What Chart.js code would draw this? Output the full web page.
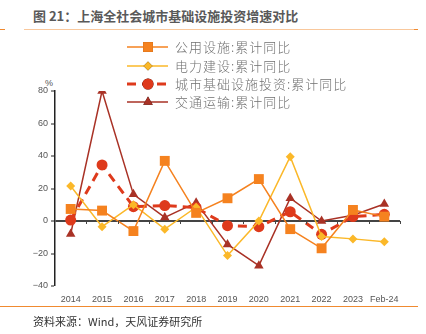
<!DOCTYPE html>
<html>
<head>
<meta charset="utf-8">
<script src="https://cdn.jsdelivr.net/npm/chart.js@4/dist/chart.umd.min.js"></script>
<style>
  html, body { margin: 0; padding: 0; background: #fff; }
  #wrap { position: relative; width: 426px; height: 334px; overflow: hidden; }
  #chart { position: absolute; left: 0; top: 0; }
  .title { position: absolute; left: 33px; top: 6px; font: bold 13px "Noto Sans CJK SC", sans-serif; color: #595959; white-space: nowrap; }
  .source { position: absolute; left: 33px; top: 313px; font: 11px "Noto Sans CJK SC", sans-serif; color: #333; white-space: nowrap; }
  .unit { position: absolute; left: 45px; top: 78px; font: 9px "Liberation Sans", Arial, sans-serif; color: #555; }
  .hline { position: absolute; height: 1px; }
</style>
</head>
<body>
<div id="wrap">
  <div class="title">图 21：上海全社会城市基础设施投资增速对比</div>
  <div class="hline" style="left:0;top:29px;width:5px;background:#f08a30"></div>
  <div class="hline" style="left:24px;top:29px;width:394px;background:#f9c89c"></div>
  <div class="hline" style="left:414px;top:29px;width:4px;background:#f08a30"></div>
  <div class="hline" style="left:0;top:306px;width:418px;background:#f08a30"></div>
  <div class="unit">%</div>
  <canvas id="chart" width="426" height="334"></canvas>
  <div class="source">资料来源：Wind，天风证券研究所</div>
</div>
<script>
const years = ["2014", "2015", "2016", "2017", "2018", "2019", "2020", "2021", "2022", "2023", "Feb-24"];
// 累计同比, %
const utilities = [7.4, 6.4, -6.2, 37, 5, 14, 25.8, -5, -16.8, 6.8, 2.7];
const power = [21.5, -3.5, 10, -5, 8.5, -21.3, 0, 39.6, -9.5, -11, -12.7];
const cityInfra = [0.6, 34.5, 8.8, 9.5, 8.2, -2.9, -3.5, 5.7, -8.2, 2.7, 4.1];
const transport = [-8, 80, 16.4, 2.2, 11.3, -14.4, -27.5, 14, 0, 3.5, 10.5];
const yTicks = [-40, -20, 0, 20, 40, 60, 80];

const ORANGE = "#f5821f";
const YELLOW = "#fbb829";
const RED = "#de3a1c";
const DARKRED = "#a93226";

function series(label, data, color, style, radius, extra) {
  return Object.assign({
    label: label,
    data: data,
    borderColor: color,
    backgroundColor: color,
    pointBackgroundColor: color,
    pointBorderColor: color,
    pointStyle: style,
    pointRadius: radius,
    pointBorderWidth: 0,
    borderWidth: 1.5,
    tension: 0,
  }, extra || {});
}

// legend with line + marker drawn inside the plot like the original
const legendPlugin = {
  id: "lineLegend",
  afterDraw(chart) {
    const ctx = chart.ctx;
    const rows = [47, 66, 84, 102];
    chart.data.datasets.forEach((ds, i) => {
      const y = rows[i];
      ctx.save();
      ctx.strokeStyle = ds.borderColor;
      ctx.lineWidth = ds.borderWidth;
      ctx.setLineDash(ds.borderDash || []);
      ctx.beginPath();
      ctx.moveTo(127, y);
      ctx.lineTo(168, y);
      ctx.stroke();
      ctx.setLineDash([]);
      Chart.helpers.drawPoint(ctx, {
        pointStyle: ds.pointStyle,
        radius: ds.pointRadius,
        borderWidth: 0,
        rotation: 0,
      }, 148, y);
      ctx.fillStyle = ds.backgroundColor;
      ctx.fill();
      ctx.fillStyle = "#707070";
      ctx.font = "300 13px 'Noto Sans CJK SC', sans-serif";
      ctx.letterSpacing = "1px";
      ctx.textBaseline = "middle";
      ctx.fillText(ds.label, 175, y);
      ctx.restore();
    });
  },
};

// small tick marks under the zero line between categories
const zeroTicks = {
  id: "zeroTicks",
  afterDatasetsDraw(chart) {
    const ctx = chart.ctx;
    const area = chart.chartArea;
    const y0 = chart.scales.y.getPixelForValue(0);
    const step = (area.right - area.left) / years.length;
    ctx.save();
    ctx.strokeStyle = "#444";
    ctx.lineWidth = 1;
    for (let i = 1; i <= years.length; i++) {
      const x = Math.round(area.left + step * i) + 0.5;
      ctx.beginPath();
      ctx.moveTo(x, y0);
      ctx.lineTo(x, y0 + 3);
      ctx.stroke();
    }
    ctx.restore();
  },
};

new Chart(document.getElementById("chart"), {
  type: "line",
  data: {
    labels: years,
    datasets: [
      series("公用设施:累计同比", utilities, ORANGE, "rect", 7),
      series("电力建设:累计同比", power, YELLOW, "rectRot", 4.5),
      series("城市基础设施投资:累计同比", cityInfra, RED, "circle", 5.5, { borderWidth: 3, borderDash: [9, 6] }),
      series("交通运输:累计同比", transport, DARKRED, "triangle", 5.5),
    ],
  },
  options: {
    responsive: false,
    animation: false,
    layout: { padding: { left: 0, top: 91, right: 26, bottom: 28 } },
    plugins: { legend: { display: false }, tooltip: { enabled: false } },
    scales: {
      x: {
        offset: true,
        grid: { display: false },
        border: { display: false },
        ticks: { color: "#555", font: { size: 9, family: "'Liberation Sans', Arial, sans-serif" }, padding: 0, maxRotation: 0, autoSkip: false },
        afterFit(scale) { scale.height = 20; },
      },
      y: {
        min: -40,
        max: 80,
        afterBuildTicks(scale) { scale.ticks = yTicks.map((v) => ({ value: v })); },
        grid: {
          drawOnChartArea: true,
          color: (c) => (c.tick && c.tick.value === 0 ? "#444" : "rgba(0,0,0,0)"),
          lineWidth: (c) => (c.tick && c.tick.value === 0 ? 2 : 0),
          tickColor: "#222",
          tickLength: 4,
          tickWidth: 1,
        },
        border: { display: true, color: "#222", width: 1.5 },
        ticks: {
          color: "#555",
          font: { size: 9, family: "'Liberation Sans', Arial, sans-serif" },
          padding: 3,
          callback: (v) => String(v).replace("-", "\u2212"),
        },
        afterFit(scale) { scale.width = 55; },
      },
    },
  },
  plugins: [legendPlugin, zeroTicks],
});
</script>
</body>
</html>
